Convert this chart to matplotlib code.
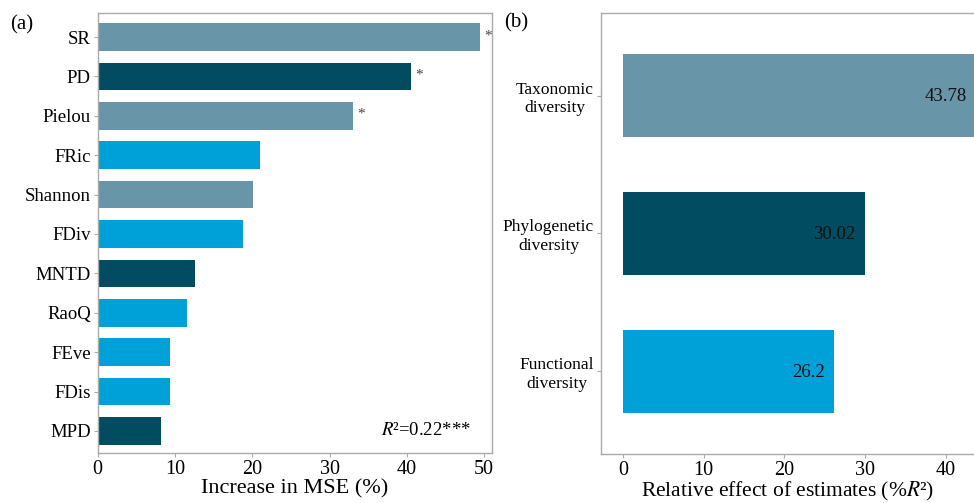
import matplotlib.pyplot as plt
import numpy as np

plt.rcParams['font.family'] = ['Liberation Serif', 'DejaVu Serif']

# panel (a): random forest importance
metrics = ['SR', 'PD', 'Pielou', 'FRic', 'Shannon', 'FDiv', 'MNTD', 'RaoQ', 'FEve', 'FDis', 'MPD']
mse_inc = [49.5, 40.5, 33.0, 21.0, 20.1, 18.8, 12.6, 11.6, 9.4, 9.4, 8.2]
groups = ['tax', 'phy', 'tax', 'fun', 'tax', 'fun', 'phy', 'fun', 'fun', 'fun', 'phy']
signif = [True, True, True, False, False, False, False, False, False, False, False]

# panel (b): relative effect by facet
facets = ['Taxonomic\ndiversity', 'Phylogenetic\ndiversity', 'Functional\ndiversity']
rel_effect = [43.78, 30.02, 26.2]
facet_groups = ['tax', 'phy', 'fun']

colors = {'tax': '#6895a8', 'phy': '#024c62', 'fun': '#00a1d8'}
spine_col = '#aaaaaa'

fig = plt.figure(figsize=(9.74, 5.03), dpi=100)
ax1 = fig.add_axes([0.1003, 0.0994, 0.4048, 0.8748])
ax2 = fig.add_axes([0.617, 0.0974, 0.383, 0.877])


def style(ax):
    for s in ax.spines.values():
        s.set_color(spine_col)
        s.set_linewidth(1.0)
    ax.tick_params(axis='both', color=spine_col, length=3, width=0.8, pad=2)
    ax.tick_params(axis='x', labelsize=14.5)


# (a)
n = len(metrics)
ypos = np.arange(n)[::-1]
ax1.barh(ypos, mse_inc, height=0.7, color=[colors[g] for g in groups])
for y, v, s in zip(ypos, mse_inc, signif):
    if s:
        ax1.annotate('*', (v, y), xytext=(3, 1), textcoords='offset points',
                     ha='left', va='center', fontsize=11, color='#444444')
ax1.set_yticks(ypos)
ax1.set_yticklabels(metrics, fontsize=13.5)
ax1.set_xlim(0, 51)
ax1.set_ylim(-0.56, n - 1 + 0.61)
ax1.set_xticks([0, 10, 20, 30, 40, 50])
ax1.set_xlabel('Increase in MSE (%)', fontsize=16, labelpad=0)
ax1.text(48.3, 0, r'$\mathit{R}$²=0.22***', ha='right', va='center', fontsize=13.5,
         math_fontfamily='stix')
style(ax1)
fig.text(0.01, 0.95, '(a)', fontsize=15, va='center')

# (b)
yb = np.arange(len(facets))[::-1]
ax2.barh(yb, rel_effect, height=0.6, color=[colors[g] for g in facet_groups])
for y, v in zip(yb, rel_effect):
    ax2.annotate(f'{v:g}', (v, y), xytext=(-7, -1), textcoords='offset points',
                 ha='right', va='center', fontsize=13.5, color='#111111',
                 annotation_clip=False)
ax2.set_yticks(yb)
ax2.set_yticklabels(facets, fontsize=12.5, multialignment='center')
ax2.set_xlim(-2.7, 43.5)
ax2.set_ylim(-0.6, 2.6)
ax2.set_xticks([0, 10, 20, 30, 40])
ax2.set_xlabel(r'Relative effect of estimates (%$\mathit{R}$²)', fontsize=15.5, labelpad=0)
ax2.xaxis.label.set_math_fontfamily('stix')
style(ax2)
ax2.spines['right'].set_visible(False)
fig.text(0.518, 0.955, '(b)', fontsize=15, va='center')

fig.savefig('out.png', dpi=100)
